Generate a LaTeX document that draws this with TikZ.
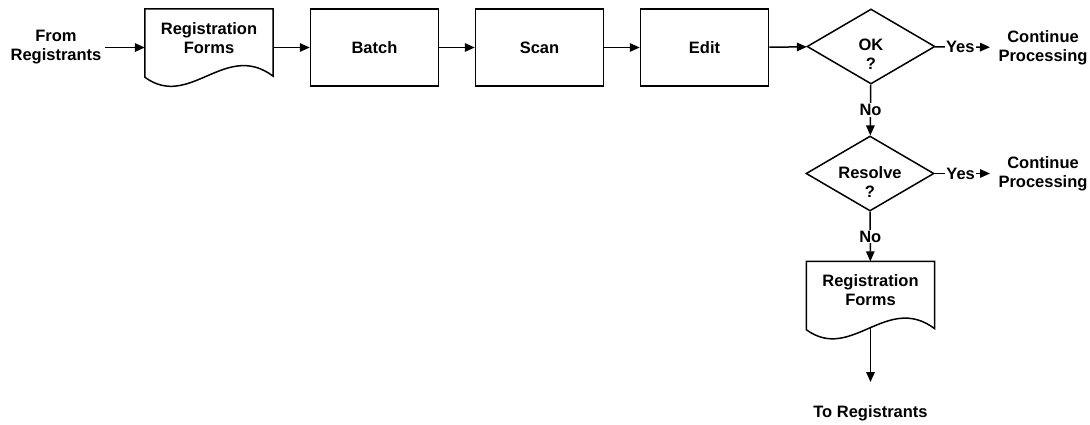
\documentclass[tikz,border=0pt]{standalone}
\usepackage{fontspec}
\setmainfont{Liberation Sans}
\usetikzlibrary{shapes.geometric,arrows.meta,calc}

\begin{document}
\begin{tikzpicture}[x=1pt, y=1pt,
	every node/.style={font=\fontsize{16.5}{19}\selectfont\bfseries, align=center},
	process/.style={rectangle, draw=black, line width=1.5pt, minimum width=128pt, minimum height=77pt},
	docshape/.style={rectangle, minimum width=128pt, minimum height=77pt},
	decision/.style={diamond, draw=black, line width=1.5pt, minimum width=128pt, minimum height=75pt, inner sep=0pt},
	flow/.style={line width=1.5pt, -{Triangle[length=10pt,width=8.5pt]}},
	tag/.style={fill=white, inner sep=1pt}]
				\useasboundingbox (0,0) rectangle (1090,-424);
				
				\node (from) at (56,-47.5) {From\\Registrants};
				\node[docshape, label={[yshift=9.5pt]center:Registration\\Forms}] (forms1) at (209,-47.5) {};
				\node[process] (batch) at (374.5,-47.5) {Batch};
				\node[process] (scan) at (539.5,-47.5) {Scan};
				\node[process] (edit) at (704.5,-47.5) {Edit};
				\node[decision, label={[yshift=-8pt]center:OK\\?}] (ok) at (871,-46.5) {};
				\node (cont1) at (1043,-47.5) {Continue\\Processing};
				\node[decision, label={[yshift=-9pt]center:Resolve\\?}] (resolve) at (870,-173.5) {};
				\node (cont2) at (1043,-173.5) {Continue\\Processing};
				\node[docshape, label={[yshift=9.5pt]center:Registration\\Forms}] (forms2) at (870.5,-300) {};
				\coordinate (toend) at (870.5,-382);
				\node (to) at (870.5,-413) {To Registrants};
				
				% document outlines with wavy bottom
				\foreach \f in {forms1,forms2}
					\draw[line width=1.5pt] (\f.north west) -- ($(\f.south west)+(0,9)$)
						.. controls +(45,-33) and +(-48,36) .. ($(\f.south east)+(0,10)$)
						-- (\f.north east) -- cycle;
				
				\draw[flow] (from) -- (from -| forms1.west);
				\draw[flow] (forms1) -- (batch);
				\draw[flow] (batch) -- (scan);
				\draw[flow] (scan) -- (edit);
				\draw[flow] (edit) -- (ok);
				\draw[flow, shorten >=5pt] (ok) -- node[tag, pos=0.42]{Yes} (cont1);
				\draw[flow] (ok) -- node[tag]{No} (resolve);
				\draw[flow, shorten >=5pt] (resolve) -- node[tag, pos=0.43]{Yes} (cont2);
				\draw[flow] (resolve) -- node[tag]{No} (forms2);
				\draw[flow] ($(forms2.south)+(0,10.5)$) -- (toend);
\end{tikzpicture}
\end{document}
